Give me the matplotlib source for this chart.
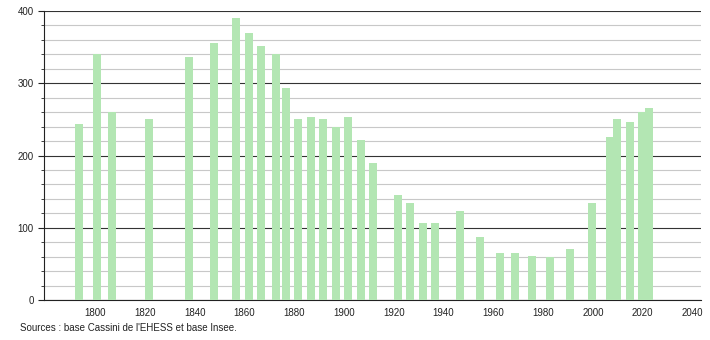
import numpy as np
import matplotlib.pyplot as plt
from matplotlib.ticker import MultipleLocator

years = [1793, 1800, 1806, 1821, 1837, 1847, 1856, 1861, 1866, 1872, 1876,
         1881, 1886, 1891, 1896, 1901, 1906, 1911, 1921, 1926, 1931, 1936,
         1946, 1954, 1962, 1968, 1975, 1982, 1990, 1999, 2006, 2009, 2014,
         2019, 2022]
population = [243, 340, 260, 250, 337, 356, 391, 369, 352, 341, 294,
              250, 253, 250, 240, 253, 221, 189, 145, 134, 106, 106,
              123, 87, 65, 65, 61, 59, 70, 134, 225, 250, 247,
              260, 266]
xticks = list(range(1800, 2041, 20))

plt.rcParams['font.family'] = ['Liberation Sans', 'DejaVu Sans']

fig = plt.figure(figsize=(7.1, 3.4), dpi=100)
ax = fig.add_axes([44/710, 40/340, 657/710, 289/340])

# bars sit a little right of the year in the original
ax.bar(np.array(years) + 0.7, population, width=3.2, color='#b3e6b3', zorder=3)

ax.set_xlim(1779.5, 2043.4)
ax.set_ylim(0, 400)
ax.set_xticks(xticks)
ax.yaxis.set_major_locator(MultipleLocator(100))
ax.yaxis.set_minor_locator(MultipleLocator(20))
ax.grid(axis='y', which='major', color='#333333', linewidth=0.8, zorder=1)
ax.grid(axis='y', which='minor', color='#c8c8c8', linewidth=0.8, zorder=1)

for s in ['top', 'right']:
    ax.spines[s].set_visible(False)
ax.spines['left'].set_color('#222222')
ax.spines['bottom'].set_color('#222222')
ax.tick_params(axis='x', length=0, labelsize=7, pad=6, colors='#222222')
ax.tick_params(axis='y', which='major', length=4, labelsize=7, colors='#222222')
ax.tick_params(axis='y', which='minor', length=2.5, color='#222222')

fig.text(20/710, 1 - 328/340, "Sources : base Cassini de l'EHESS et base Insee.",
         fontsize=7, color='#222222', va='center')

fig.savefig('out.png', dpi=100)
